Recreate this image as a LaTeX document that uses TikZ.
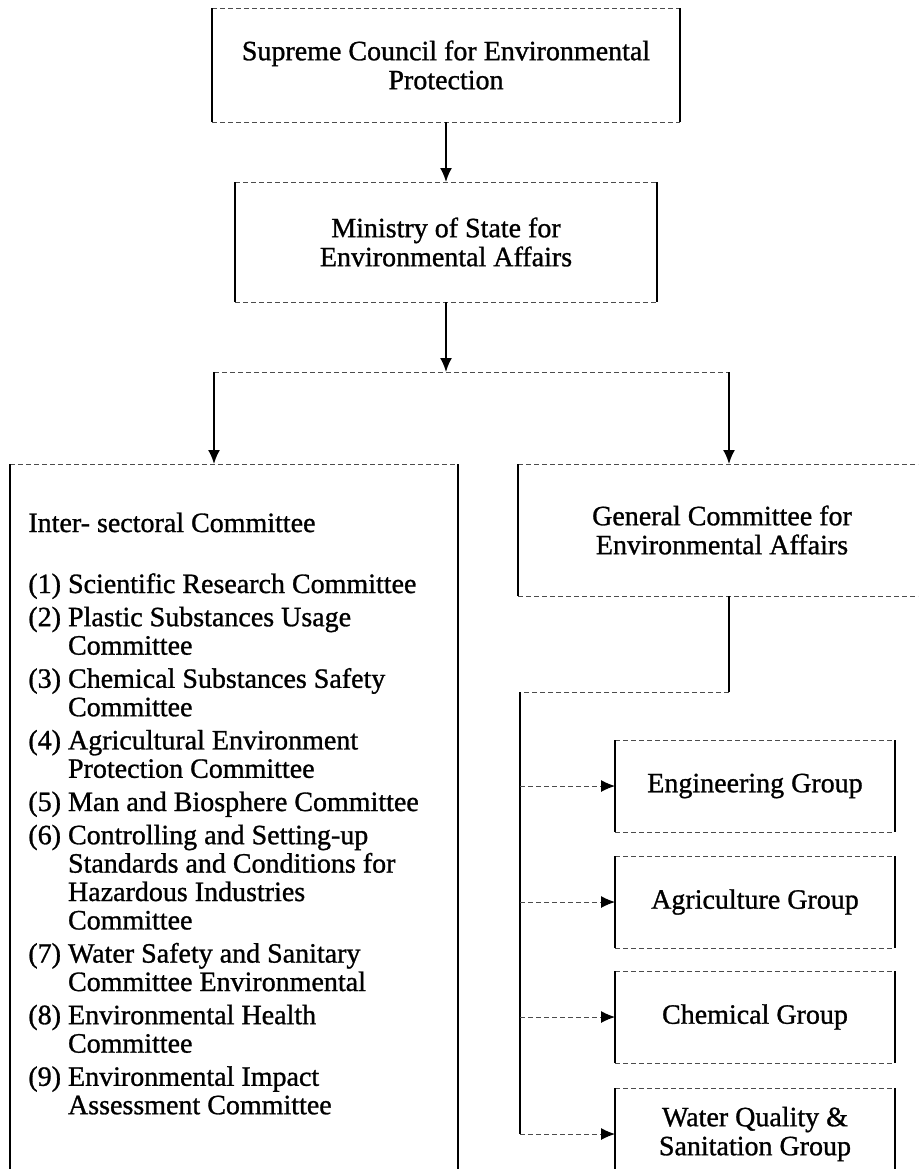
\documentclass[tikz,border=0pt]{standalone}
\usepackage{fontspec}
\setmainfont{Liberation Serif}[FakeBold=1]
\usetikzlibrary{arrows.meta}

\tikzset{
  unit/.style={inner sep=0pt, outer sep=0pt, align=center, font=\fontsize{14}{14.5}\selectfont},
  vedge/.style={line width=0.9pt},
  hedge/.style={line width=0.5pt, black!70, dash pattern=on 2.5pt off 1.5pt},
  feed/.style={-{Latex[length=7pt,width=6pt,black]}},
}

\begin{document}
\begin{tikzpicture}[x=0.5pt,y=-0.5pt]
  \useasboundingbox (0,0) rectangle (918,1169);
  \clip (0,0) rectangle (918,1169);

  % the chain at the top
  \node[unit,minimum width=234pt,minimum height=57pt] (supreme) at (446,65) {Supreme Council for Environmental\\Protection};
  \node[unit,minimum width=211pt,minimum height=60pt] (ministry) at (446,242) {Ministry of State for\\Environmental Affairs};

  % the two committees (cut off by the page edge)
  \node[unit,minimum width=224pt,minimum height=360.5pt] (inter) at (234,824.5) {};
  \node[unit,minimum width=204pt,minimum height=66pt] (general) at (722,530) {General Committee for\\Environmental Affairs};

  % the groups under the general committee
  \node[unit,minimum width=140pt,minimum height=46pt] (engineering) at (755,786) {Engineering Group};
  \node[unit,minimum width=140pt,minimum height=46pt] (agriculture) at (755,902) {Agriculture Group};
  \node[unit,minimum width=140pt,minimum height=46pt] (chemical) at (755,1017) {Chemical Group};
  \node[unit,minimum width=140pt,minimum height=46pt] (water) at (755,1134) {Water Quality \&\\Sanitation Group};

  % faint dashed tops and bottoms, firm sides
  \foreach \n in {supreme,ministry,inter,general,engineering,agriculture,chemical,water}{
    \draw[hedge] (\n.north west) -- (\n.north east) (\n.south west) -- (\n.south east);
    \draw[vedge] (\n.north west) -- (\n.south west) (\n.north east) -- (\n.south east);
  }

  % list of the inter-sectoral committee
  \node[inner sep=0pt,anchor=base west,font=\fontsize{14}{15}\selectfont] (interhead) at ([shift={(18,68)}]inter.north west) {Inter- sectoral Committee};
  \node[inner sep=0pt,anchor=base west,font=\fontsize{14}{14.2}\selectfont] (interlist) at ([shift={(18,129)}]inter.north west) {%
    \begin{tabular}[t]{@{}l@{ }l@{}}
      (1) & Scientific Research Committee\\[2.4pt]
      (2) & Plastic Substances Usage\\
          & Committee\\[2.4pt]
      (3) & Chemical Substances Safety\\
          & Committee\\[2.4pt]
      (4) & Agricultural Environment\\
          & Protection Committee\\[2.4pt]
      (5) & Man and Biosphere Committee\\[2.4pt]
      (6) & Controlling and Setting-up\\
          & Standards and Conditions for\\
          & Hazardous Industries\\
          & Committee\\[2.4pt]
      (7) & Water Safety and Sanitary\\
          & Committee Environmental\\[2.4pt]
      (8) & Environmental Health\\
          & Committee\\[2.4pt]
      (9) & Environmental Impact\\
          & Assessment Committee
    \end{tabular}};

  % connectors
  \coordinate (fork) at (448,372);
  \coordinate (forkl) at (214,372);
  \coordinate (forkr) at (729,372);
  \coordinate (bus) at (520,692);
  \draw[vedge,feed] (supreme.south) -- (supreme.south |- ministry.north);
  \draw[vedge,feed] (ministry.south) -- (ministry.south |- fork);
  \draw[hedge] (forkl) -- (forkr);
  \draw[vedge,feed] (forkl) -- (forkl |- inter.north);
  \draw[vedge,feed] (forkr) -- (forkr |- general.north);
  \draw[vedge] (forkr |- general.south) -- (forkr |- bus);
  \draw[hedge] (forkr |- bus) -- (bus);
  \draw[vedge] (bus) -- (bus |- water.west);
  \foreach \g in {engineering,agriculture,chemical,water}
    \draw[hedge,feed] (bus |- \g.west) -- (\g.west);
\end{tikzpicture}
\end{document}
